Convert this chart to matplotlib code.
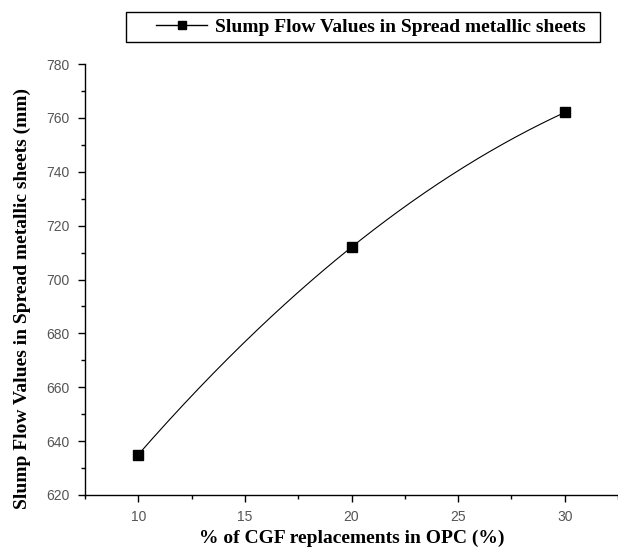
import numpy as np
import matplotlib
matplotlib.use("Agg")
import matplotlib.pyplot as plt
from matplotlib.patches import Rectangle
from matplotlib.ticker import MultipleLocator

# data
cgf_pct = [10, 20, 30]
slump_flow = [635, 712, 762]
series_name = "Slump Flow Values in Spread metallic sheets"

W, H = 618, 556
fig = plt.figure(figsize=(W / 100, H / 100), dpi=100)
ax = fig.add_axes([85 / W, 1 - 495 / H, 1 - 85 / W, (495 - 64) / H])

# smooth connector through the points (quadratic, like the spline in the original)
coef = np.polyfit(cgf_pct, slump_flow, 2)
xs = np.linspace(min(cgf_pct), max(cgf_pct), 200)
ax.plot(xs, np.polyval(coef, xs), color="black", lw=0.8)
ax.plot(cgf_pct, slump_flow, ls="none", marker="s", ms=7, color="black")

ax.set_xlim(7.5, 32.5)
ax.set_ylim(620, 780)
ax.xaxis.set_major_locator(MultipleLocator(5))
ax.xaxis.set_minor_locator(MultipleLocator(2.5))
ax.yaxis.set_major_locator(MultipleLocator(20))
ax.yaxis.set_minor_locator(MultipleLocator(10))

for s in ("top", "right"):
    ax.spines[s].set_visible(False)
for s in ("left", "bottom"):
    ax.spines[s].set_linewidth(1.0)

ax.tick_params(which="major", direction="out", length=5, width=1, colors="black",
               labelcolor="#555555", labelsize=10, pad=6)
ax.tick_params(which="minor", direction="out", length=3, width=1, colors="black")
for lab in ax.get_xticklabels() + ax.get_yticklabels():
    lab.set_family("Liberation Sans")

ax.set_xlabel("% of CGF replacements in OPC (%)", family="Liberation Serif",
              fontweight="bold", fontsize=14)
ax.xaxis.set_label_coords(0.5, -(530 - 495) / (495 - 64))
ax.set_ylabel("Slump Flow Values in Spread metallic sheets (mm)", family="Liberation Serif",
              fontweight="bold", fontsize=14)
ax.yaxis.set_label_coords(-(85 - 31) / (W - 85), (495 - 298) / (495 - 64))

# legend box above the axes
fig.patches.append(Rectangle((126 / W, 1 - 42 / H), (600 - 126) / W, 30 / H,
                             transform=fig.transFigure, fill=False,
                             edgecolor="black", lw=1.0))
handle = plt.Line2D([], [], color="black", lw=1, marker="s", ms=6)
fig.legend([handle], [series_name], loc="center",
           bbox_to_anchor=(371 / W, 1 - 27 / H), frameon=False,
           handlelength=2.6, handletextpad=0.4, borderpad=0,
           prop={"family": "Liberation Serif", "weight": "bold", "size": 14})

fig.savefig("out.png", dpi=100)
